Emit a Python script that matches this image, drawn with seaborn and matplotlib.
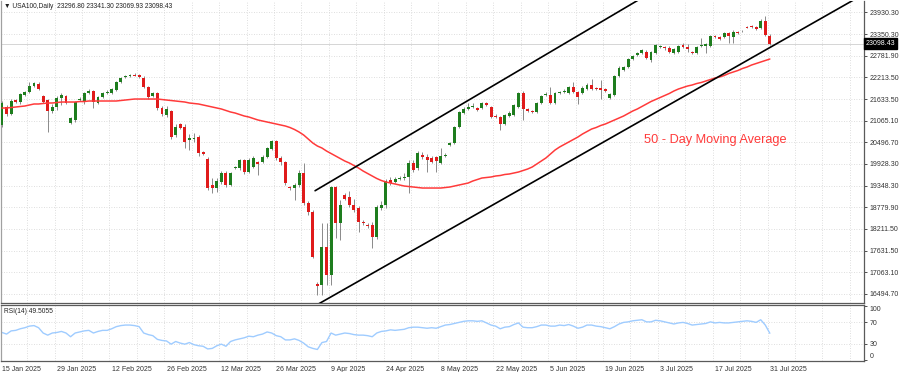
import numpy as np
import pandas as pd
import matplotlib
matplotlib.use("Agg")
import matplotlib.pyplot as plt
import matplotlib.transforms as mtransforms
import seaborn as sns

# daily USA100 candles, 15 Jan 2025 - 31 Jul 2025 (Sunday bars included)
opens = [20951, 21425, 21241, 21610, 21557, 21742, 21821, 21979, 22032, 21715,
         21610, 21320, 21425, 21663, 21715, 21003, 21083, 21610, 21557, 21795,
         21847, 21531, 21689, 21795, 21795, 21874, 22085, 22217, 22243, 22269,
         22269, 22190, 21953, 21715, 21795, 21399, 21214, 21320, 20687, 20977,
         20898, 20555, 20582, 20634, 20239, 20054, 19369, 19289, 19448, 19685,
         19369, 19817, 19817, 20028, 19711, 19843, 19975, 19975, 20107, 20318,
         20529, 20081, 19975, 19316, 19289, 19369, 19685, 18894, 18657, 16758,
         16732, 17734, 16995, 19316, 18366, 19105, 19052, 18841, 18762, 18393,
         18314, 18314, 17997, 18762, 18841, 19500, 19448, 19527, 19553, 19580,
         19949, 19817, 20160, 20107, 20081, 20107, 19949, 20133, 20423, 20476,
         20898, 21267, 21373, 21425, 21399, 21399, 21531, 21425, 21188, 21162,
         20977, 21188, 21214, 21425, 21795, 21373, 21320, 21294, 21531, 21742,
         21742, 21531, 21795, 21821, 21795, 21953, 21821, 21795, 21900, 22006,
         21926, 21926, 21900, 21663, 21742, 22243, 22401, 22480, 22691, 22797,
         22849, 22876, 22665, 22849, 23008, 23008, 22981, 22849, 22876, 23060,
         23008, 22876, 22849, 23034, 23034, 23034, 23298, 23271, 23271, 23377,
         23271, 23403, 23430, 23535, 23561, 23535, 23509, 23693, 23296.80]

closes = [21531, 21241, 21584, 21557, 21768, 21821, 21979, 22058, 21900, 21557,
          21320, 21425, 21663, 21742, 21531, 21135, 21557, 21636, 21795, 21847,
          21557, 21689, 21795, 21821, 21900, 22085, 22190, 22243, 22269, 22256,
          22217, 21953, 21689, 21795, 21399, 21241, 21373, 20634, 20898, 20872,
          20502, 20608, 20620, 20212, 20186, 19289, 19289, 19474, 19685, 19369,
          19685, 19843, 20028, 19711, 20028, 20081, 19922, 20107, 20344, 20529,
          20081, 19975, 19421, 19289, 19369, 19685, 18894, 18657, 17470, 16705,
          17734, 16995, 19316, 18366, 18841, 18999, 18841, 18709, 18393, 18366,
          18287, 17997, 18788, 18841, 19474, 19421, 19527, 19553, 19580, 19949,
          19764, 20212, 20107, 20028, 19975, 20001, 20133, 20160, 20476, 20898,
          21294, 21373, 21425, 21452, 21346, 21531, 21478, 21162, 21162, 20977,
          21214, 21267, 21478, 21795, 21373, 21320, 21294, 21531, 21715, 21768,
          21531, 21795, 21821, 21847, 21953, 21821, 21689, 21926, 22006, 21900,
          21900, 21874, 21847, 21768, 22243, 22454, 22480, 22691, 22770, 22849,
          22928, 22718, 22876, 23060, 23034, 22981, 22876, 22955, 23034, 23008,
          22955, 22849, 23008, 23060, 23087, 23298, 23271, 23219, 23377, 23298,
          23403, 23377, 23417, 23522, 23535, 23482, 23693, 23324, 23098.43]

highs = [21584, 21478, 21636, 21636, 21795, 21847, 22085, 22085, 22085, 21742,
         21636, 21505, 21715, 21795, 21742, 21162, 21584, 21689, 21821, 21900,
         21874, 21715, 21821, 21874, 21926, 22111, 22217, 22269, 22296, 22322,
         22296, 22243, 21979, 21821, 21821, 21452, 21452, 21346, 20977, 21003,
         20977, 20713, 20740, 20687, 20265, 20107, 19553, 19553, 19738, 19738,
         19711, 19870, 20054, 20054, 20081, 20133, 20001, 20160, 20371, 20555,
         20555, 20133, 20001, 19342, 19421, 19764, 19949, 18947, 18709, 16811,
         18366, 18366, 19342, 19342, 18973, 19158, 19210, 18999, 18815, 18446,
         18366, 18393, 18841, 18947, 19527, 19580, 19580, 19606, 19685, 20028,
         20028, 20265, 20239, 20186, 20133, 20133, 20344, 20212, 20502, 20924,
         21320, 21425, 21531, 21531, 21425, 21557, 21557, 21452, 21241, 21188,
         21241, 21320, 21505, 21821, 21847, 21399, 21346, 21557, 21742, 21821,
         21953, 21821, 21847, 21900, 21979, 22085, 21847, 21979, 22058, 22164,
         21953, 22137, 21926, 21795, 22269, 22507, 22507, 22718, 22797, 22876,
         22955, 22928, 22902, 23087, 23060, 23034, 23034, 22981, 23060, 23113,
         23087, 22902, 23034, 23245, 23113, 23324, 23324, 23298, 23403, 23403,
         23456, 23430, 23456, 23561, 23588, 23561, 23746, 23825, 23341.30]

lows = [20898, 21188, 21214, 21531, 21505, 21715, 21795, 21953, 21874, 21531,
        20766, 21267, 21346, 21478, 21505, 20977, 21030, 21584, 21505, 21768,
        21399, 21505, 21663, 21768, 21768, 21847, 22058, 22190, 22217, 22243,
        22190, 21926, 21636, 21689, 21346, 21188, 21162, 20582, 20634, 20845,
        20344, 20291, 20502, 20133, 20160, 19237, 19158, 19184, 19395, 19316,
        19342, 19790, 19764, 19659, 19685, 19817, 19632, 19949, 20081, 20291,
        20028, 19896, 19369, 19237, 18973, 19316, 18841, 18577, 17444, 16468,
        16468, 16732, 16732, 17971, 17918, 18973, 18788, 18657, 18129, 18314,
        18235, 17707, 17945, 18709, 18762, 19369, 19421, 19500, 19500, 19158,
        19711, 19764, 20054, 19711, 19949, 19711, 19922, 20107, 20397, 20450,
        20872, 21241, 21346, 21399, 21320, 21373, 21452, 21135, 21135, 20819,
        20951, 21162, 21188, 21399, 21083, 21294, 21267, 21267, 21505, 21715,
        21505, 21505, 21768, 21795, 21768, 21795, 21505, 21768, 21874, 21874,
        21874, 21636, 21821, 21636, 21715, 22217, 22375, 22454, 22665, 22770,
        22823, 22691, 22612, 22823, 22981, 22928, 22849, 22823, 22849, 22981,
        22876, 22823, 22823, 23008, 22849, 23008, 23245, 23192, 23245, 23113,
        23113, 23350, 23403, 23509, 23509, 23456, 23482, 23298, 23069.93]

ma50 = [21399, 21399, 21412, 21425, 21439, 21452, 21478, 21505, 21505, 21518,
        21531, 21531, 21544, 21557, 21557, 21557, 21557, 21570, 21570, 21584,
        21584, 21584, 21584, 21584, 21584, 21584, 21597, 21610, 21623, 21636,
        21636, 21636, 21636, 21636, 21636, 21623, 21610, 21597, 21584, 21570,
        21557, 21531, 21518, 21505, 21478, 21452, 21425, 21399, 21373, 21333,
        21294, 21267, 21228, 21188, 21162, 21122, 21083, 21056, 21030, 21003,
        20977, 20951, 20924, 20885, 20832, 20766, 20687, 20582, 20476, 20397,
        20344, 20265, 20199, 20133, 20067, 20001, 19949, 19883, 19817, 19738,
        19672, 19606, 19540, 19487, 19448, 19421, 19395, 19369, 19342, 19329,
        19316, 19303, 19289, 19289, 19289, 19289, 19289, 19303, 19316, 19342,
        19369, 19395, 19421, 19474, 19514, 19553, 19567, 19580, 19606, 19619,
        19646, 19659, 19685, 19711, 19751, 19790, 19843, 19922, 20001, 20081,
        20186, 20291, 20371, 20437, 20502, 20568, 20634, 20713, 20779, 20845,
        20885, 20938, 20977, 21030, 21083, 21135, 21188, 21254, 21320, 21373,
        21439, 21505, 21570, 21623, 21676, 21729, 21782, 21847, 21900, 21940,
        21979, 22006, 22045, 22072, 22111, 22151, 22190, 22217, 22256, 22309,
        22348, 22388, 22441, 22480, 22533, 22573, 22612, 22652, 22691]

rsi14 = [51, 48, 54, 55, 58, 60, 63, 64, 60, 50,
         46, 50, 51, 53, 50, 43, 50, 52, 54, 55,
         50, 53, 55, 55, 58, 62, 64, 65, 65, 64,
         62, 50, 47, 45, 38, 36, 35, 29, 34, 31,
         29, 32, 28, 26, 25, 20, 21, 26, 29, 25,
         34, 37, 39, 41, 44, 43, 46, 48, 52, 50,
         45, 43, 37, 37, 39, 36, 31, 24, 21, 19,
         32, 34, 50, 46, 48, 50, 49, 47, 46, 46,
         45, 43, 50, 53, 54, 56, 55, 56, 57, 60,
         61, 61, 60, 59, 60, 59, 62, 65, 66, 68,
         70, 72, 73, 73, 72, 73, 69, 65, 63, 58,
         61, 62, 66, 69, 61, 60, 60, 62, 65, 65,
         63, 63, 65, 64, 66, 63, 59, 61, 65, 65,
         63, 62, 60, 58, 62, 67, 70, 71, 73, 74,
         75, 71, 71, 74, 73, 71, 69, 67, 69, 70,
         68, 65, 66, 67, 68, 71, 69, 70, 69, 69,
         70, 71, 72, 73, 72, 70, 75, 65, 49.5055]

date_labels = ['15 Jan 2025', '29 Jan 2025', '12 Feb 2025', '26 Feb 2025', '12 Mar 2025',
               '26 Mar 2025', '9 Apr 2025', '24 Apr 2025', '8 May 2025', '22 May 2025',
               '5 Jun 2025', '19 Jun 2025', '3 Jul 2025', '17 Jul 2025', '31 Jul 2025']
price_ticks = [23930.30, 23350.30, 22781.90, 22213.50, 21633.50, 21065.10, 20496.70,
               19928.30, 19348.30, 18779.90, 18211.50, 17631.50, 17063.10, 16494.70]
rsi_ticks = [0, 30, 70, 100]

# channel drawn on the chart: (bar, price) end points
channel_upper = [(68.5, 19218), (150, 25013)]
channel_lower = [(69.0, 16215), (190, 24500)]

df = pd.DataFrame({'open': opens, 'high': highs, 'low': lows, 'close': closes,
                   'ma50': ma50, 'rsi': rsi14})
df['bar'] = np.arange(len(df))

sns.set_style('white')
plt.rcParams['font.family'] = ['Liberation Sans', 'DejaVu Sans']

fig = plt.figure(figsize=(9, 3.72), dpi=100)
ax = fig.add_axes([1 / 900, 1 - 303 / 372, 863 / 900, 302 / 372])
ax_rsi = fig.add_axes([1 / 900, 1 - 360.5 / 372, 863 / 900, 55.5 / 372])

x_lo, x_hi = -0.22, 188.6
grid_kw = dict(color='#d4d4d4', lw=0.6, linestyle=(0, (1, 2)), zorder=0)
for a in (ax, ax_rsi):
    a.set_xlim(x_lo, x_hi)
    for gx in np.arange(5.5, x_hi, 6):
        a.axvline(gx, **grid_kw)

# main price panel
ax.set_ylim(16257, 24221)
for p in price_ticks:
    ax.axhline(p, **grid_kw)
ax.axhline(closes[-1], color='#cfcfcf', lw=0.6, zorder=1)

up = df['close'] >= df['open']
body_bottom = df[['open', 'close']].min(axis=1)
body_h = (df['close'] - df['open']).abs().clip(lower=16)
ax.vlines(df['bar'], df['low'], df['high'], color='#8a8a8a', lw=0.7, zorder=2)
ax.bar(df['bar'], body_h, bottom=body_bottom, width=0.64,
       color=np.where(up, '#1e7d1e', '#e01b1b'), linewidth=0, zorder=3)

sns.lineplot(data=df, x='bar', y='ma50', ax=ax, color='#ff3a3a', lw=1.1, legend=False, zorder=4)
for seg in (channel_upper, channel_lower):
    ax.plot([seg[0][0], seg[1][0]], [seg[0][1], seg[1][1]], color='black', lw=1.2, zorder=5)

ax.text(156, 20555, '50 - Day Moving Average', color='#ff3a3a', fontsize=9.2,
        ha='center', va='center')

ax.yaxis.tick_right()
ax.set_yticks(price_ticks)
ax.set_yticklabels(['%.2f' % p for p in price_ticks])
ax.set_xticks([])
ax.set_xlabel('')
ax.set_ylabel('')
ax.tick_params(axis='y', labelsize=5, length=2.5, width=0.6, pad=1.5, colors='#333333')

trans = mtransforms.blended_transform_factory(ax.transAxes, ax.transData)
ax.text(1.002, closes[-1], '23098.43', transform=trans, fontsize=5, color='white',
        va='center', ha='left',
        bbox=dict(boxstyle='square,pad=0.25', fc='black', ec='black'))

ax.spines['top'].set_visible(False)
ax.spines['left'].set_color('#a0a0a0')
ax.spines['right'].set_color('#5a5a5a')
ax.spines['bottom'].set_color('#5a5a5a')
for s in ('left', 'right', 'bottom'):
    ax.spines[s].set_linewidth(0.9)

# RSI panel
ax_rsi.set_ylim(-1.8, 102.8)
for r in (30, 70):
    ax_rsi.axhline(r, **grid_kw)
sns.lineplot(data=df, x='bar', y='rsi', ax=ax_rsi, color='#9fccff', lw=1.0, legend=False)
ax_rsi.yaxis.tick_right()
ax_rsi.set_yticks(rsi_ticks)
ax_rsi.set_yticklabels([str(t) for t in rsi_ticks])
ylabs = ax_rsi.get_yticklabels()
ylabs[0].set_va('bottom')
ylabs[-1].set_va('top')
ax_rsi.set_xticks(np.arange(0, len(df), 12))
ax_rsi.set_xticklabels(date_labels, ha='left')
ax_rsi.set_xlabel('')
ax_rsi.set_ylabel('')
ax_rsi.tick_params(axis='both', labelsize=5, length=2.5, width=0.6, pad=1.5, colors='#333333')
for s in ax_rsi.spines.values():
    s.set_color('#5a5a5a')
    s.set_linewidth(0.9)
ax_rsi.spines['left'].set_color('#a0a0a0')
ax_rsi.text(0.003, 0.95, 'RSI(14) 49.5055', transform=ax_rsi.transAxes, fontsize=4.8,
            va='top', ha='left', color='#222222')

fig.text(4 / 900, 1 - 6 / 372, '\u25BC USA100,Daily  23296.80 23341.30 23069.93 23098.43',
         fontsize=4.8, va='center', ha='left', color='#222222')

fig.savefig('out.png', dpi=100, facecolor='white')
